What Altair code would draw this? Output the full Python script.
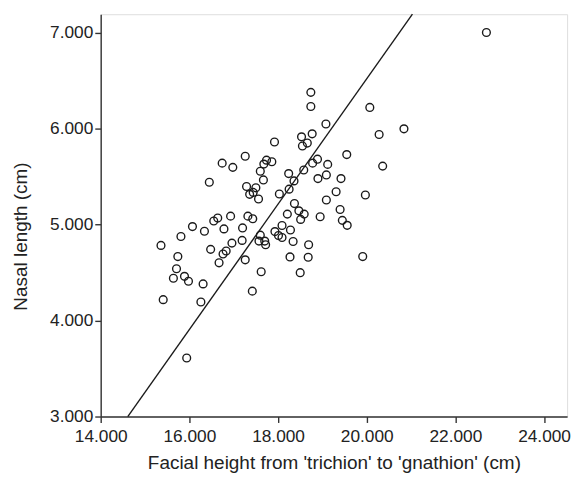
import altair as alt
import pandas as pd

# Facial height (cm) and nasal length (cm)
facial_height = [
    22.70, 18.74, 18.74, 20.07, 19.08, 20.84, 18.77, 20.28, 18.53, 17.92,
    18.66, 18.55, 19.55, 17.26, 17.74, 17.86, 18.89, 17.68, 18.78, 16.74,
    19.12, 16.98, 20.36, 17.60, 18.58, 18.24, 19.09, 17.67, 18.36, 19.42,
    18.90, 16.45, 17.29, 17.50, 18.25, 17.44, 17.36, 19.31, 18.03, 19.97,
    17.56, 19.09, 18.37, 19.40, 18.47, 18.21, 18.59, 16.64, 16.93, 17.32,
    17.43, 18.51, 18.95, 16.55, 19.45, 19.56, 16.07, 16.78, 17.20, 16.34,
    18.09, 18.28, 17.93, 18.01, 18.09, 17.60, 15.81, 17.19, 17.57, 17.70,
    18.34, 16.96, 17.72, 18.69, 15.36, 16.48, 16.83, 16.76, 15.74, 18.27,
    18.68, 19.91, 17.26, 16.67, 15.71, 17.62, 18.50, 15.64, 15.89, 15.98,
    16.31, 17.42, 15.41, 16.26, 15.94,
]
nasal_length = [
    7.000, 6.376, 6.229, 6.219, 6.047, 5.996, 5.944, 5.937, 5.913, 5.859,
    5.848, 5.817, 5.728, 5.711, 5.670, 5.653, 5.680, 5.629, 5.639, 5.639,
    5.626, 5.595, 5.608, 5.554, 5.567, 5.530, 5.516, 5.464, 5.454, 5.478,
    5.478, 5.440, 5.396, 5.382, 5.368, 5.334, 5.314, 5.341, 5.317, 5.307,
    5.266, 5.255, 5.218, 5.156, 5.142, 5.108, 5.108, 5.067, 5.087, 5.087,
    5.060, 5.053, 5.081, 5.036, 5.043, 4.991, 4.978, 4.954, 4.964, 4.930,
    4.990, 4.943, 4.926, 4.885, 4.865, 4.889, 4.875, 4.834, 4.827, 4.827,
    4.823, 4.806, 4.789, 4.789, 4.782, 4.741, 4.724, 4.693, 4.666, 4.662,
    4.659, 4.666, 4.632, 4.601, 4.539, 4.508, 4.498, 4.440, 4.460, 4.409,
    4.381, 4.306, 4.217, 4.193, 3.610,
]

# Fitted line: nasal = intercept + slope * facial
fit_intercept = -6.535
fit_slope = 0.6526

x_domain = [14.0, 24.52]
y_domain = [3.0, 7.19]
x_ticks = [14, 16, 18, 20, 22, 24]
y_ticks = [3, 4, 5, 6, 7]

pts = pd.DataFrame({"x": facial_height, "y": nasal_length})
line_y = y_domain
line_x = [(v - fit_intercept) / fit_slope for v in line_y]
fit = pd.DataFrame({"x": line_x, "y": line_y})

FONT = "Liberation Sans"
TXT = "#222222"

x_enc = alt.X(
    "x:Q",
    scale=alt.Scale(domain=x_domain, nice=False, zero=False),
    axis=alt.Axis(
        title="Facial height from 'trichion' to 'gnathion' (cm)",
        values=x_ticks, format=".3f", grid=False,
        tickSize=6, labelPadding=5, titlePadding=9,
        labelFontSize=17.5, titleFontSize=19.2, titleFontWeight="normal",
        labelFont=FONT, titleFont=FONT, labelColor=TXT, titleColor=TXT,
        domainColor="#333333", tickColor="#333333", domainWidth=1.4, tickWidth=1.4,
        labelFlush=False, labelOverlap=False,
    ),
)
y_enc = alt.Y(
    "y:Q",
    scale=alt.Scale(domain=y_domain, nice=False, zero=False),
    axis=alt.Axis(
        title="Nasal length (cm)",
        values=y_ticks, format=".3f", grid=False,
        tickSize=6, labelPadding=2,
        labelFontSize=17.5, titleFontSize=19.2, titleFontWeight="normal",
        labelFont=FONT, titleFont=FONT, labelColor=TXT, titleColor=TXT,
        domainColor="#333333", tickColor="#333333", domainWidth=1.4, tickWidth=1.4,
        titleX=-81, titleY=225, titleAngle=270, titleBaseline="middle",
        titleAlign="center", labelFlush=False, labelOverlap=False,
    ),
)

points = alt.Chart(pts).mark_point(
    shape="circle", filled=False, size=62, strokeWidth=1.4, color="#1a1a1a", opacity=1
).encode(x=x_enc, y=y_enc)

line = alt.Chart(fit).mark_line(color="#1a1a1a", strokeWidth=1.4).encode(
    x="x:Q", y="y:Q"
)

chart = (
    alt.layer(line, points)
    .properties(
        width=473,
        height=408,
        autosize=alt.AutoSizeParams(type="none"),
        padding={"left": 94, "top": 3, "right": 8, "bottom": 56},
    )
    .configure_view(stroke=None)
    .configure(background="white")
)

chart.save("out.html", embed_options={"renderer": "svg", "actions": False})
